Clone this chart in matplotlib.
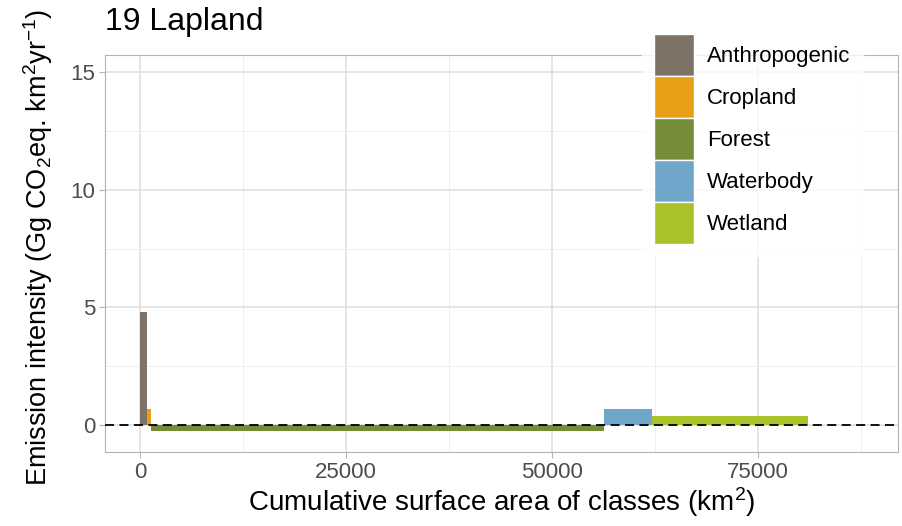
import matplotlib.pyplot as plt
from matplotlib.patches import Patch
import numpy as np

plt.rcParams['font.family'] = ['Liberation Sans', 'DejaVu Sans']
plt.rcParams['mathtext.default'] = 'regular'

# land cover classes, their surface area (km2) and emission intensity
classes = ['Anthropogenic', 'Cropland', 'Forest', 'Waterbody', 'Wetland']
area = [890, 480, 54980, 5820, 18930]
intensity = [4.82, 0.70, -0.25, 0.67, 0.37]
colors = ['#7f7266', '#e69f16', '#768c38', '#6fa6c9', '#a9c22a']

left = np.concatenate([[0], np.cumsum(area)[:-1]])

fig = plt.figure(figsize=(9.02, 5.26), dpi=100)
ax = fig.add_axes([105/902, 1 - 452/526, 793/902, 397/526])

ax.bar(left, intensity, width=area, align='edge', color=colors, zorder=3)
ax.axhline(0, color='black', linestyle=(0, (5, 3)), linewidth=1.3, zorder=4)

ax.set_xlim(-4250, 92000)
ax.set_ylim(-1.15, 15.74)
ax.set_xticks([0, 25000, 50000, 75000])
ax.set_yticks([0, 5, 10, 15])
ax.set_xticks([12500, 37500, 62500, 87500], minor=True)
ax.set_yticks([2.5, 7.5, 12.5], minor=True)
ax.grid(which='major', color='#dedede', linewidth=1.1, zorder=0)
ax.grid(which='minor', color='#ececec', linewidth=0.6, zorder=0)
for s in ax.spines.values():
    s.set_color('#b3b3b3')
ax.tick_params(which='major', colors='#b3b3b3', labelcolor='#4d4d4d',
               labelsize=16, length=4, pad=3)
ax.tick_params(which='minor', length=0)

ax.set_xlabel('Cumulative surface area of classes (km$^2$)', fontsize=20, labelpad=2)
ax.set_ylabel('Emission intensity (Gg CO$_2$eq. km$^2$yr$^{-1}$)', fontsize=19.5)
ax.yaxis.set_label_coords(-0.063, 0.515)
fig.text(105/902, 1 - 22/526, '19 Lapland', fontsize=23, va='center', ha='left')

handles = [Patch(facecolor=c, edgecolor='white', linewidth=1) for c in colors]
leg = fig.legend(handles, classes, loc='upper left',
                 bbox_to_anchor=(642/902, 1 - 22/526), frameon=True,
                 fontsize=16, handlelength=1.8, handleheight=2.53,
                 labelspacing=0.0, handletextpad=0.6, borderpad=0.54,
                 borderaxespad=0)
leg.get_frame().set_edgecolor('white')
leg.get_frame().set_facecolor('white')
leg.get_frame().set_boxstyle('square', pad=0)

fig.savefig('out.png', dpi=100)
